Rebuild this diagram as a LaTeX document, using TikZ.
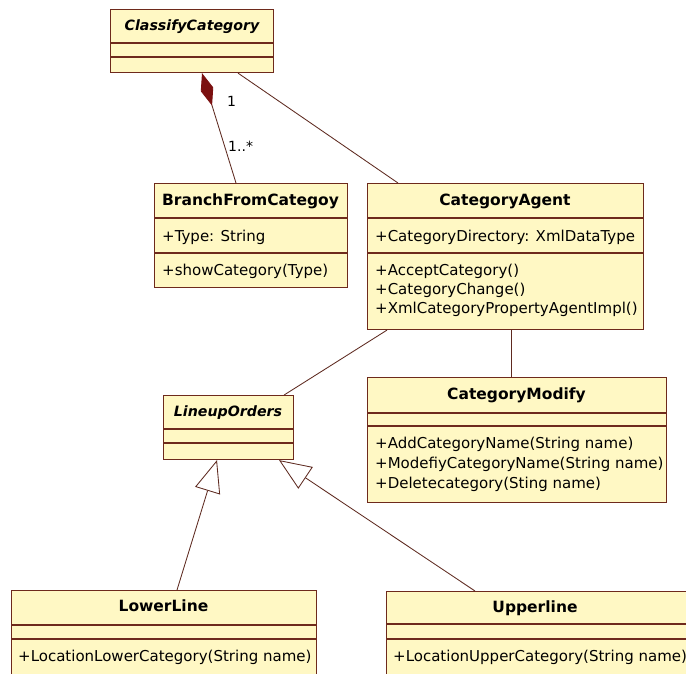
\documentclass[tikz,border=0pt]{standalone}
\usepackage{fontspec}
\setmainfont{DejaVu Sans}
\usetikzlibrary{arrows.meta,calc}
\definecolor{boxfill}{HTML}{FFF8C4}
\definecolor{boxline}{HTML}{6E2A1C}
\definecolor{connline}{HTML}{5E2A20}
\definecolor{diamondc}{HTML}{7B1010}
\begin{document}
\begin{tikzpicture}[x=1pt,y=-1pt,
  cls/.style={draw=boxline, fill=boxfill, line width=1.1pt, inner sep=0pt, anchor=north west},
  sepline/.style={draw=boxline, line width=1.1pt},
  conn/.style={draw=connline, line width=0.85pt},
  txt/.style={inner sep=0pt, anchor=mid west, font=\fontsize{15}{19}\selectfont},
  ttl/.style={inner sep=0pt, anchor=mid, font=\fontsize{15.5}{19}\selectfont\bfseries},
  attl/.style={inner sep=0pt, anchor=mid, font=\fontsize{14.2}{19}\selectfont\bfseries\itshape},
  lbl/.style={inner sep=0pt, anchor=mid west, font=\fontsize{14}{16}\selectfont},
  gen/.style={conn, -{Triangle[open, length=32pt, width=26pt, fill=white]}},
  comp/.style={conn, {Diamond[length=34pt, width=13pt, fill=diamondc, color=diamondc]}-}
]
\useasboundingbox (0,0) rectangle (686,673);
\begin{scope}
\clip (0,0) rectangle (686,673);

% ClassifyCategory
\node[cls, minimum width=163pt, minimum height=63pt] (cc) at (110,9) {};
\draw[sepline] ($(cc.north west)+(0,34)$) -- ($(cc.north east)+(0,34)$);
\draw[sepline] ($(cc.north west)+(0,48)$) -- ($(cc.north east)+(0,48)$);
\node[attl] (cct) at (192,28) {ClassifyCategory};

% BranchFromCategoy
\node[cls, minimum width=193pt, minimum height=104pt] (bfc) at (154,183) {};
\draw[sepline] ($(bfc.north west)+(0,35)$) -- ($(bfc.north east)+(0,35)$);
\draw[sepline] ($(bfc.north west)+(0,70)$) -- ($(bfc.north east)+(0,70)$);
\node[ttl] (bfct) at (250.5,203) {BranchFromCategoy};
\node[txt] (bfca) at (162,239) {+Type: String};
\node[txt] (bfco) at (162,273) {+showCategory(Type)};

% CategoryAgent
\node[cls, minimum width=276pt, minimum height=146pt] (ca) at (367,183) {};
\draw[sepline] ($(ca.north west)+(0,35)$) -- ($(ca.north east)+(0,35)$);
\draw[sepline] ($(ca.north west)+(0,70)$) -- ($(ca.north east)+(0,70)$);
\node[ttl] (cat) at (505,203) {CategoryAgent};
\node[txt] (caa) at (375,239) {+CategoryDirectory: XmlDataType};
\node[txt] (cao1) at (375,273) {+AcceptCategory()};
\node[txt] (cao2) at (375,292) {+CategoryChange()};
\node[txt] (cao3) at (375,311) {+XmlCategoryPropertyAgentImpl()};

% CategoryModify
\node[cls, minimum width=299pt, minimum height=125pt] (cm) at (367,377) {};
\draw[sepline] ($(cm.north west)+(0,36)$) -- ($(cm.north east)+(0,36)$);
\draw[sepline] ($(cm.north west)+(0,49)$) -- ($(cm.north east)+(0,49)$);
\node[ttl] (cmt) at (516.5,397) {CategoryModify};
\node[txt] (cmo1) at (375,446) {+AddCategoryName(String name)};
\node[txt] (cmo2) at (375,466) {+ModefiyCategoryName(String name)};
\node[txt] (cmo3) at (375,486) {+Deletecategory(Sting name)};

% LineupOrders
\node[cls, minimum width=130pt, minimum height=64pt] (lo) at (163,395) {};
\draw[sepline] ($(lo.north west)+(0,34)$) -- ($(lo.north east)+(0,34)$);
\draw[sepline] ($(lo.north west)+(0,48)$) -- ($(lo.north east)+(0,48)$);
\node[attl] (lot) at (228,414) {LineupOrders};

% LowerLine
\node[cls, minimum width=305pt, minimum height=95pt] (ll) at (11,590) {};
\draw[sepline] ($(ll.north west)+(0,35)$) -- ($(ll.north east)+(0,35)$);
\draw[sepline] ($(ll.north west)+(0,49)$) -- ($(ll.north east)+(0,49)$);
\node[ttl] (llt) at (163.5,609) {LowerLine};
\node[txt] (llo) at (18,659) {+LocationLowerCategory(String name)};

% Upperline
\node[cls, minimum width=320pt, minimum height=95pt] (ul) at (386,591) {};
\draw[sepline] ($(ul.north west)+(0,33)$) -- ($(ul.north east)+(0,33)$);
\draw[sepline] ($(ul.north west)+(0,48)$) -- ($(ul.north east)+(0,48)$);
\node[ttl] (ult) at (535,610) {Upperline};
\node[txt] (ulo) at (393,659) {+LocationUpperCategory(String name)};

% connectors
\draw[comp] ($(cc.south west)+(92,0)$) -- ($(bfc.north west)+(82,0)$);
\node[lbl] (m1) at (227,104) {1};
\node[lbl] (m2) at (228,149) {1..*};
\draw[conn] ($(cc.south west)+(128,0)$) -- ($(ca.north west)+(31,0)$);
\draw[conn] ($(ca.south west)+(20,0)$) -- ($(lo.north east)+(-10,0)$);
\draw[conn] ($(ca.south west)+(144,0)$) -- ($(cm.north west)+(144,0)$);
\draw[gen] ($(ll.north west)+(166,0)$) -- ($(lo.south west)+(54,0)$);
\draw[gen] ($(ul.north west)+(89,0)$) -- ($(lo.south west)+(116,0)$);
\end{scope}
\end{tikzpicture}
\end{document}
